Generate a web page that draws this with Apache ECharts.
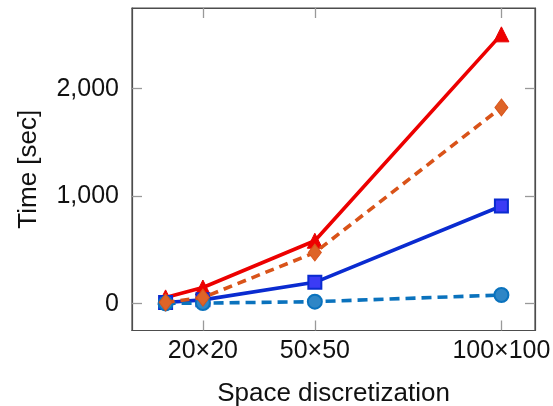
<!DOCTYPE html>
<html>
<head>
<meta charset="utf-8">
<script src="https://cdn.jsdelivr.net/npm/echarts@6/dist/echarts.min.js"></script>
<style>html,body{margin:0;padding:0;background:#fff}#c{width:553px;height:406px}</style>
</head>
<body>
<div id="c"></div>
<script>
const gridSizes = [10, 20, 50, 100];
const xTickValues = [20, 50, 100];
const yTickValues = [0, 1000, 2000];
const seriesRed = [58, 150, 585, 2505];
const seriesOrange = [12, 56, 475, 1825];
const seriesBlue = [10, 35, 198, 908];
const seriesLightBlue = [2, 5, 18, 80];

const FONT = 'Liberation Sans';
const chart = echarts.init(document.getElementById('c'), null, {renderer: 'canvas'});
function pts(arr) { return gridSizes.map((g, i) => [g, arr[i]]); }
const axisLineStyle = {color: '#4d4d4d', width: 1.2};
const tickStyle = {color: '#999999', width: 1.3};
function fmtY(v) { return v.toLocaleString('en-US'); }

chart.setOption({
  animation: false,
  grid: {left: 132, right: 18, top: 8, bottom: 75.5, containLabel: false, outerBoundsMode: 'none',
    show: true, borderColor: '#4d4d4d', borderWidth: 1.2, backgroundColor: 'transparent'},
  xAxis: [{
    type: 'value', min: 1, max: 109, position: 'bottom',
    name: 'Space discretization', nameLocation: 'middle', nameGap: 50,
    nameTextStyle: {fontFamily: FONT, fontSize: 26, color: '#111'},
    axisLine: {show: true, onZero: false, lineStyle: axisLineStyle},
    axisTick: {show: true, inside: true, length: 10, lineStyle: tickStyle, customValues: xTickValues},
    axisLabel: {show: true, fontFamily: FONT, fontSize: 25, color: '#111', margin: 8,
      customValues: xTickValues, formatter: v => v + '\u00d7' + v},
    splitLine: {show: false}
  }, {
    type: 'value', min: 1, max: 109, position: 'top',
    axisLine: {show: true, onZero: false, lineStyle: axisLineStyle},
    axisTick: {show: true, inside: true, length: 10, lineStyle: tickStyle, customValues: xTickValues},
    axisLabel: {show: false, customValues: xTickValues}, splitLine: {show: false}
  }],
  yAxis: [{
    type: 'value', min: -250, max: 2750, position: 'left',
    name: 'Time [sec]', nameLocation: 'middle', nameGap: 90,
    nameTextStyle: {fontFamily: FONT, fontSize: 26, color: '#111'},
    axisLine: {show: true, onZero: false, lineStyle: axisLineStyle},
    axisTick: {show: true, inside: true, length: 10, lineStyle: tickStyle, customValues: yTickValues},
    axisLabel: {show: true, fontFamily: FONT, fontSize: 25, color: '#111', margin: 13,
      customValues: yTickValues, formatter: fmtY},
    splitLine: {show: false}
  }, {
    type: 'value', min: -250, max: 2750, position: 'right',
    axisLine: {show: true, onZero: false, lineStyle: axisLineStyle},
    axisTick: {show: true, inside: true, length: 10, lineStyle: tickStyle, customValues: yTickValues},
    axisLabel: {show: false, customValues: yTickValues}, splitLine: {show: false}
  }],
  series: [
    {type: 'line', data: pts(seriesRed), z: 2, symbol: 'triangle', symbolSize: 15,
      lineStyle: {color: '#ec0000', width: 3.6},
      itemStyle: {color: '#ee0000', borderColor: '#e60000', borderWidth: 1}},
    {type: 'line', data: pts(seriesBlue), z: 3, symbol: 'rect', symbolSize: 13,
      lineStyle: {color: '#0a2bd0', width: 3.6},
      itemStyle: {color: '#3b3bf5', borderColor: '#0a2bd0', borderWidth: 2}},
    {type: 'line', data: pts(seriesLightBlue), z: 4, symbol: 'circle', symbolSize: 14,
      lineStyle: {color: '#0a72bd', width: 3.6, type: [10, 6]},
      itemStyle: {color: '#2f86c6', borderColor: '#0a72bd', borderWidth: 2}},
    {type: 'line', data: pts(seriesOrange), z: 5, symbol: 'diamond', symbolSize: [13, 17],
      lineStyle: {color: '#d95319', width: 3.6, type: [9, 6]},
      itemStyle: {color: '#de6428', borderColor: '#d95319', borderWidth: 1}},
    {type: 'line', data: [], xAxisIndex: 1, yAxisIndex: 1, silent: true}
  ]
});
</script>
</body>
</html>
